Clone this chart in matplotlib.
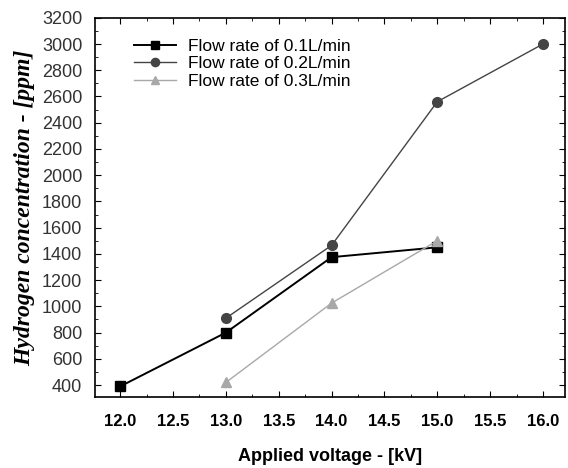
import numpy as np
import matplotlib
matplotlib.use("Agg")
import matplotlib.pyplot as plt
from matplotlib.ticker import MultipleLocator

# data
v_01 = [12.0, 13.0, 14.0, 15.0]
h_01 = [390, 800, 1375, 1450]
v_02 = [13.0, 14.0, 15.0, 16.0]
h_02 = [910, 1465, 2560, 3000]
v_03 = [13.0, 14.0, 15.0]
h_03 = [420, 1025, 1500]
labels = ["Flow rate of 0.1L/min", "Flow rate of 0.2L/min", "Flow rate of 0.3L/min"]
xticks = [12.0, 12.5, 13.0, 13.5, 14.0, 14.5, 15.0, 15.5, 16.0]
yticks = list(range(400, 3201, 200))

plt.rcParams["font.family"] = ["Liberation Sans", "DejaVu Sans"]

fig = plt.figure(figsize=(5.68, 4.68), dpi=100)
ax = fig.add_axes([0.167, 0.152, 0.828, 0.81])

ax.plot(v_01, h_01, color="black", marker="s", ms=7, lw=1.4, label=labels[0])
ax.plot(v_02, h_02, color="#444444", marker="o", ms=7, lw=1.0, label=labels[1])
ax.plot(v_03, h_03, color="#a8a8a8", marker="^", ms=7, lw=1.0, label=labels[2])

ax.set_xlim(11.76, 16.21)
ax.set_ylim(310, 3200)
ax.xaxis.set_minor_locator(MultipleLocator(0.25))
ax.yaxis.set_minor_locator(MultipleLocator(100))
ax.set_yticks(yticks)
ax.set_yticklabels([str(t) for t in yticks], color="#333333")
ax.set_xticks(xticks)
ax.set_xticklabels([f"{t:.1f}" for t in xticks], fontweight="bold")
ax.tick_params(which="both", direction="in", top=True, right=True)
ax.tick_params(axis="x", labelsize=12, pad=12)
ax.tick_params(axis="y", labelsize=13, pad=9)
ax.tick_params(which="major", length=4)
ax.tick_params(which="minor", length=2)
for s in ax.spines.values():
    s.set_linewidth(1.2)

ax.set_xlabel("Applied voltage - [kV]", fontsize=13, fontweight="bold", labelpad=14)
ax.set_ylabel("Hydrogen concentration - [ppm]", fontsize=17, fontweight="bold",
              fontstyle="italic", family=["Liberation Serif", "DejaVu Serif"], labelpad=5)

ax.legend(loc="upper left", bbox_to_anchor=(0.05, 0.985), frameon=False, fontsize=12.5,
          handlelength=2.4, handletextpad=0.7, labelspacing=0.12, markerscale=0.85)

fig.savefig("out.png", dpi=100)
